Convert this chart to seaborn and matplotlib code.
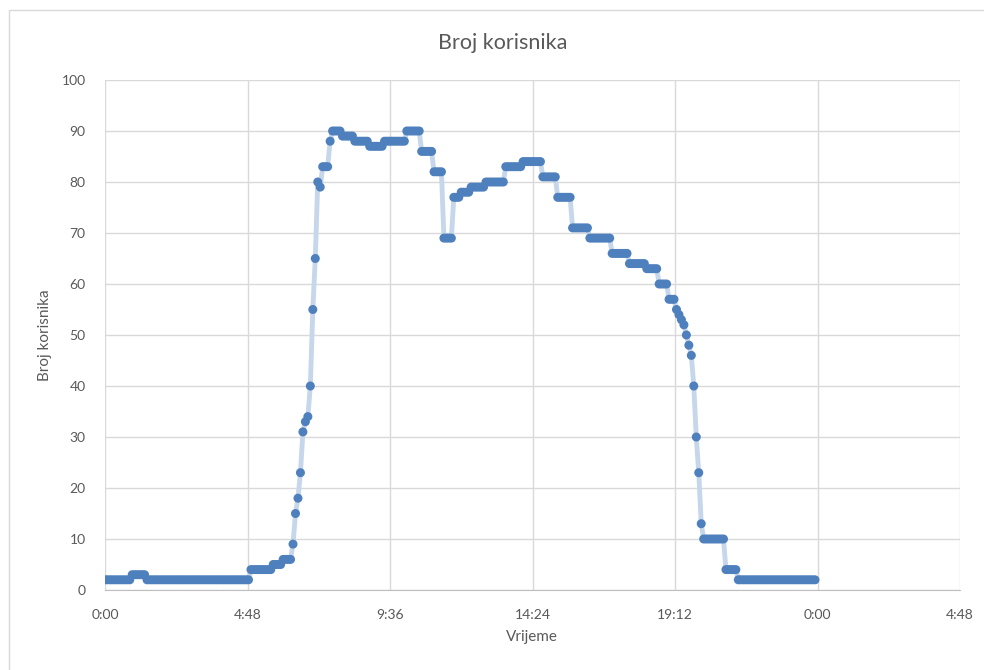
import numpy as np
import pandas as pd
import matplotlib.pyplot as plt
import seaborn as sns
from matplotlib.lines import Line2D

# minuta od ponoci kad se broj korisnika promijeni, i novi broj korisnika
promjene_min = [0, 55, 85, 295, 340, 360, 380, 385, 390, 395, 400, 405, 410, 415,
                420, 425, 430, 435, 440, 455, 460, 480, 505, 535, 565, 610, 640,
                665, 685, 705, 720, 740, 770, 810, 845, 885, 915, 945, 980, 1025,
                1060, 1095, 1120, 1140, 1155, 1160, 1165, 1170, 1175, 1180, 1185,
                1190, 1195, 1200, 1205, 1210, 1255, 1280]
promjene_broj = [2, 3, 2, 4, 5, 6, 9, 15, 18, 23, 31, 33, 34, 40,
                 55, 65, 80, 79, 83, 88, 90, 89, 88, 87, 88, 90, 86,
                 82, 69, 77, 78, 79, 80, 83, 84, 81, 77, 71, 69, 66,
                 64, 63, 60, 57, 55, 54, 53, 52, 50, 48, 46,
                 40, 30, 23, 13, 10, 4, 2]
kraj_min = 1435
korak_min = 5

x_oznake = ["0:00", "4:48", "9:36", "14:24", "19:12", "0:00", "4:48"]
y_oznake = [0, 10, 20, 30, 40, 50, 60, 70, 80, 90, 100]

# mjerenja svakih 5 minuta, broj ostaje isti do sljedece promjene
minute = np.arange(0, kraj_min + 1, korak_min)
idx = np.searchsorted(promjene_min, minute, side='right') - 1
df = pd.DataFrame({'sati': minute / 60, 'broj': np.array(promjene_broj)[idx]})

sns.set_style('white')
plt.rcParams['font.family'] = ['Lato', 'DejaVu Sans']

W, H = 984, 670
fig = plt.figure(figsize=(W / 100, H / 100), dpi=100)
ax = fig.add_axes([105 / W, 80 / H, (960 - 105) / W, 510 / H])

sns.lineplot(data=df, x='sati', y='broj', color='#c6d6eb', linewidth=3.5, ax=ax, zorder=2)
sns.scatterplot(data=df, x='sati', y='broj', color='#4e80bd', s=42, edgecolor='none',
                linewidth=0, ax=ax, zorder=3)

x_pozicije = [i * 4.8 for i in range(len(x_oznake))]
ax.set_xlim(0, x_pozicije[-1])
ax.set_ylim(0, 100)
ax.set_xticks(x_pozicije)
ax.set_xticklabels(x_oznake)
ax.set_yticks(y_oznake)
ax.grid(True, color='#d9d9d9', linewidth=1)
ax.set_axisbelow(True)
for s in ['top', 'right', 'left']:
    ax.spines[s].set_visible(False)
ax.spines['bottom'].set_color('#bfbfbf')
ax.spines['bottom'].set_zorder(1)
ax.tick_params(length=0, labelcolor='#595959', labelsize=10)
ax.tick_params(axis='y', pad=14)
ax.tick_params(axis='x', pad=14)
ax.set_xlabel('')
ax.set_ylabel('')

fig.text(503 / W, 1 - 43 / H, 'Broj korisnika', ha='center', va='center',
         fontsize=15.5, color='#595959')
fig.text(532 / W, 1 - 637 / H, 'Vrijeme', ha='center', va='center',
         fontsize=11, color='#595959')
fig.text(45 / W, 1 - 335 / H, 'Broj korisnika', ha='center', va='center',
         rotation=90, fontsize=11, color='#595959')

# okvir grafikona (vidljivi su samo gornji i lijevi rub)
fig.add_artist(Line2D([9 / W, 1], [1 - 10 / H, 1 - 10 / H], color='#d9d9d9', lw=1))
fig.add_artist(Line2D([9 / W, 9 / W], [0, 1 - 10 / H], color='#d9d9d9', lw=1))

plt.savefig('out.png', dpi=100)
